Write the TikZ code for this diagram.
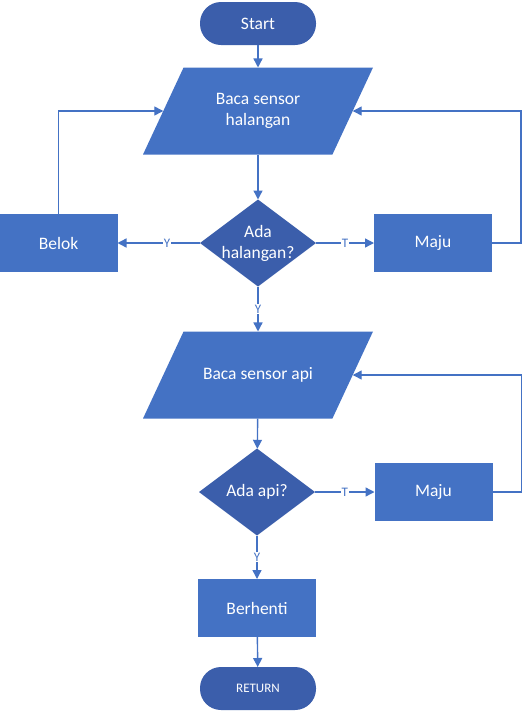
\documentclass[tikz,border=0pt]{standalone}
\usepackage{fontspec}
\setmainfont{Carlito}
\usetikzlibrary{shapes.geometric,arrows.meta}
\definecolor{boxblue}{HTML}{4472C4}
\definecolor{darkblue}{HTML}{3B5EAB}
\tikzset{
  base/.style={text=white,font=\fontsize{17.5}{21}\selectfont,align=center,outer sep=0pt,inner sep=0pt},
  term/.style={base,fill=darkblue,rectangle,rounded corners=21pt,minimum width=116pt,minimum height=43pt},
  procbox/.style={base,fill=boxblue,rectangle,minimum width=118pt,minimum height=58pt},
  iobox/.style={base,fill=boxblue,trapezium,trapezium left angle=65,trapezium right angle=115,trapezium stretches body=true,minimum width=230pt,minimum height=87pt},
  decbox/.style={base,fill=darkblue,diamond,minimum width=116pt,minimum height=87pt},
  conn/.style={draw=boxblue,line width=1.4pt,-{Triangle[length=9pt,width=9pt]}},
  lbl/.style={fill=white,text=boxblue,font=\fontsize{13}{15}\selectfont,inner sep=1pt}
}
\begin{document}
\begin{tikzpicture}[x=1pt,y=-1pt]
\useasboundingbox (0,0) rectangle (523,713);
\node[term] (start) at (258,23.5) {Start};
\node[iobox,label={[base]center:Baca sensor\\halangan}] (p1) at (258,111) {\rule{0pt}{87pt}};
\node[decbox,label={[base]center:Ada\\halangan?}] (d1) at (258,243) {};
\node[procbox] (belok) at (58.5,243) {Belok};
\node[procbox] (maju1) at (433,243) {Maju};
\node[iobox,label={[base]center:Baca sensor api}] (p2) at (258,375) {\rule{0pt}{87pt}};
\node[decbox,label={[base]center:Ada api?}] (d2) at (257,492) {};
\node[procbox] (maju2) at (433.5,492) {Maju};
\node[procbox] (stop) at (257,608) {Berhenti};
\node[term] (ret) at (258,688.5) {\fontsize{13}{15}\selectfont RETURN};
\draw[conn] (start) -- (p1);
\draw[conn] (p1) -- (d1);
\draw[conn] (d1.west) -- node[lbl,pos=0.4]{Y} (belok.east);
\draw[conn] (d1.east) -- node[lbl]{T} (maju1.west);
\draw[conn] (belok.north) |- (p1.left side);
\draw[conn] (maju1.east) -- ++(29,0) |- (p1.right side);
\draw[conn] (d1.south) -- node[lbl]{Y} (p2);
\draw[conn] (p2) -- (d2);
\draw[conn] (d2.east) -- node[lbl]{T} (maju2.west);
\draw[conn] (maju2.east) -- ++(29,0) |- (p2.right side);
\draw[conn] (d2.south) -- node[lbl]{Y} (stop);
\draw[conn] (stop) -- (ret);
\end{tikzpicture}
\end{document}
